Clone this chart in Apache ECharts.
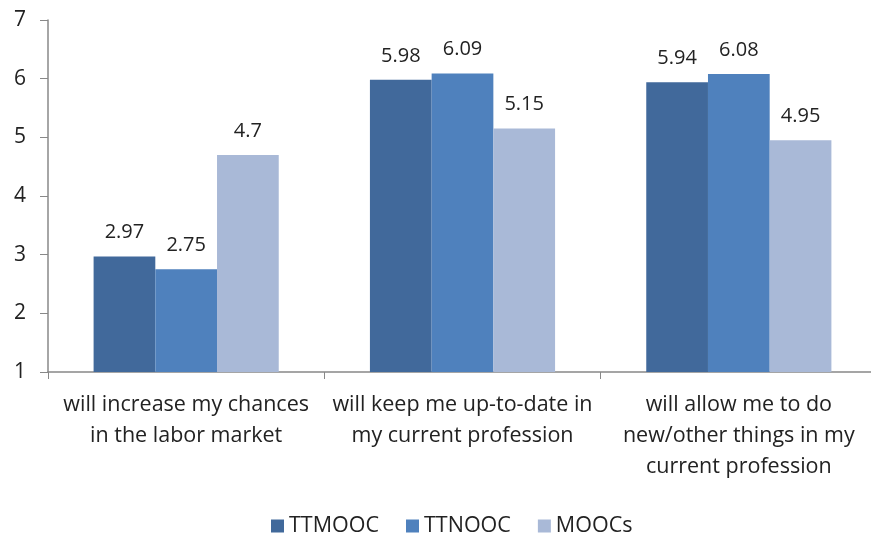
<!DOCTYPE html>
<html>
<head>
<meta charset="utf-8">
<script src="https://cdn.jsdelivr.net/npm/echarts@6/dist/echarts.min.js"></script>
<style>
  html, body { margin: 0; padding: 0; background: #fff; overflow: hidden; }
  /* 比窗口宽几像素，右边被裁掉，和原图一样 */
  #main { width: 877px; height: 536px; }
</style>
</head>
<body>
<div id="main"></div>
<script>
// 数据
var categories = [
  'will increase my chances\nin the labor market',
  'will keep me up-to-date in\nmy current profession',
  'will allow me to do\nnew/other things in my\ncurrent profession'
];
var seriesNames = ['TTMOOC', 'TTNOOC', 'MOOCs'];
var ttmooc = [2.97, 5.98, 5.94];
var ttnooc = [2.75, 6.09, 6.08];
var moocs = [4.7, 5.15, 4.95];
var colors = ['#41699b', '#4f81bd', '#a9b9d7'];

var myChart = echarts.init(document.getElementById('main'));
var fontFamily = '"Open Sans", "Liberation Sans", sans-serif';

function makeSeries(name, data, color) {
  return {
    name: name,
    type: 'bar',
    data: data,
    barGap: '0%',
    barCategoryGap: '33%',
    itemStyle: { color: color },
    label: {
      show: true,
      position: 'top',
      distance: 14,
      color: '#222',
      fontSize: 20,
      fontFamily: fontFamily
    }
  };
}

var option = {
  animation: false,
  color: colors,
  grid: { left: 48, right: 0, top: 20, bottom: 164, containLabel: false },
  legend: {
    data: seriesNames,
    top: 510,
    left: 266,
    icon: 'rect',
    itemWidth: 13,
    itemHeight: 13,
    itemGap: 27,
    itemTextGap: 5,
    textStyle: { fontSize: 21.5, color: '#222', fontFamily: fontFamily }
  },
  xAxis: {
    type: 'category',
    data: categories,
    axisLine: { lineStyle: { color: '#888', width: 1.5 } },
    axisTick: { show: true, length: 7, lineStyle: { color: '#888' } },
    axisLabel: {
      interval: 0,
      margin: 17,
      fontSize: 21.5,
      lineHeight: 31,
      color: '#222',
      fontFamily: fontFamily
    }
  },
  yAxis: {
    type: 'value',
    min: 1,
    max: 7,
    interval: 1,
    splitLine: { show: false },
    axisLine: { show: true, lineStyle: { color: '#888', width: 1.5 } },
    axisTick: { show: true, length: 8, lineStyle: { color: '#888' } },
    axisLabel: { margin: 22, fontSize: 21, color: '#222', fontFamily: fontFamily }
  },
  series: [
    makeSeries(seriesNames[0], ttmooc, colors[0]),
    makeSeries(seriesNames[1], ttnooc, colors[1]),
    makeSeries(seriesNames[2], moocs, colors[2])
  ]
};

myChart.setOption(option);
</script>
</body>
</html>
